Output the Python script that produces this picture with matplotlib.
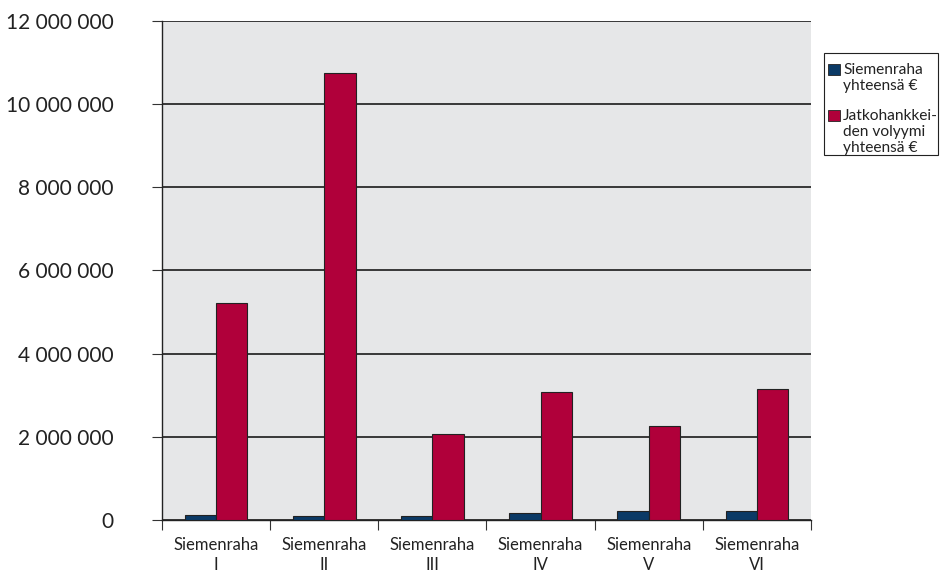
import numpy as np
import matplotlib
matplotlib.use("Agg")
import matplotlib.pyplot as plt
from matplotlib.patches import Rectangle
from matplotlib.ticker import FuncFormatter

plt.rcParams["font.family"] = ["Lato", "DejaVu Sans"]

# data
categories = ["Siemenraha\nI", "Siemenraha\nII", "Siemenraha\nIII",
              "Siemenraha\nIV", "Siemenraha\nV", "Siemenraha\nVI"]
seed_money = [120000, 100000, 90000, 170000, 210000, 210000]
follow_up = [5220000, 10750000, 2070000, 3080000, 2260000, 3150000]
series_labels = ["Siemenraha\nyhteensä €", "Jatkohankkei-\nden volyymi\nyhteensä €"]

BLUE = "#0b3a66"
RED = "#b0003a"
W, H = 940, 571

fig = plt.figure(figsize=(9.4, 5.71), dpi=100)
ax = fig.add_axes([162 / W, 1 - 520 / H, (811 - 162) / W, (520 - 21) / H])
ax.set_facecolor("#e6e7e8")

x = np.arange(len(categories))
w = 0.29
ax.bar(x - w / 2, seed_money, w, color=BLUE, edgecolor="#222222",
       linewidth=0.8, zorder=3)
ax.bar(x + w / 2, follow_up, w, color=RED, edgecolor="#222222",
       linewidth=0.8, zorder=3)

ax.set_xlim(-0.5, len(categories) - 0.5)
ax.set_ylim(0, 12000000)
ax.set_yticks(np.arange(0, 12000001, 2000000))
ax.yaxis.set_major_formatter(FuncFormatter(lambda v, p: f"{int(v):,}".replace(",", " ")))
ax.grid(axis="y", color="#1a1a1a", linewidth=1.2, zorder=1)

ax.set_xticks(np.arange(-0.5, len(categories), 1.0))
ax.set_xticklabels([])
ax.set_xticks(x, minor=True)
ax.set_xticklabels(categories, minor=True, fontsize=12, color="#222222",
                   linespacing=1.3)
ax.tick_params(axis="x", which="major", length=7, width=0.8, color="#333333")
ax.tick_params(axis="x", which="minor", length=0, pad=12)
ax.tick_params(axis="y", length=7, width=0.8, color="#333333",
               labelsize=15, labelcolor="#222222", pad=28)

for s in ["top", "right"]:
    ax.spines[s].set_visible(False)
for s in ["left", "bottom"]:
    ax.spines[s].set_color("#222222")
    ax.spines[s].set_linewidth(1.0)

# legend box drawn by hand so the swatches sit at the first text line
fig.patches.append(Rectangle((824 / W, 1 - 155 / H), 114 / W, 102 / H,
                             transform=fig.transFigure, facecolor="white",
                             edgecolor="#222222", linewidth=0.8))
swatches = [(BLUE, 64), (RED, 110)]
for (col, top), lab in zip(swatches, series_labels):
    fig.patches.append(Rectangle((828 / W, 1 - (top + 11) / H), 12 / W, 11 / H,
                                 transform=fig.transFigure, facecolor=col,
                                 edgecolor="#222222", linewidth=0.6))
    fig.text(843 / W, 1 - (top - 1) / H, lab, fontsize=11.2, color="#222222",
             va="top", ha="left", linespacing=1.2)

fig.savefig("out.png", dpi=100, facecolor="white")
